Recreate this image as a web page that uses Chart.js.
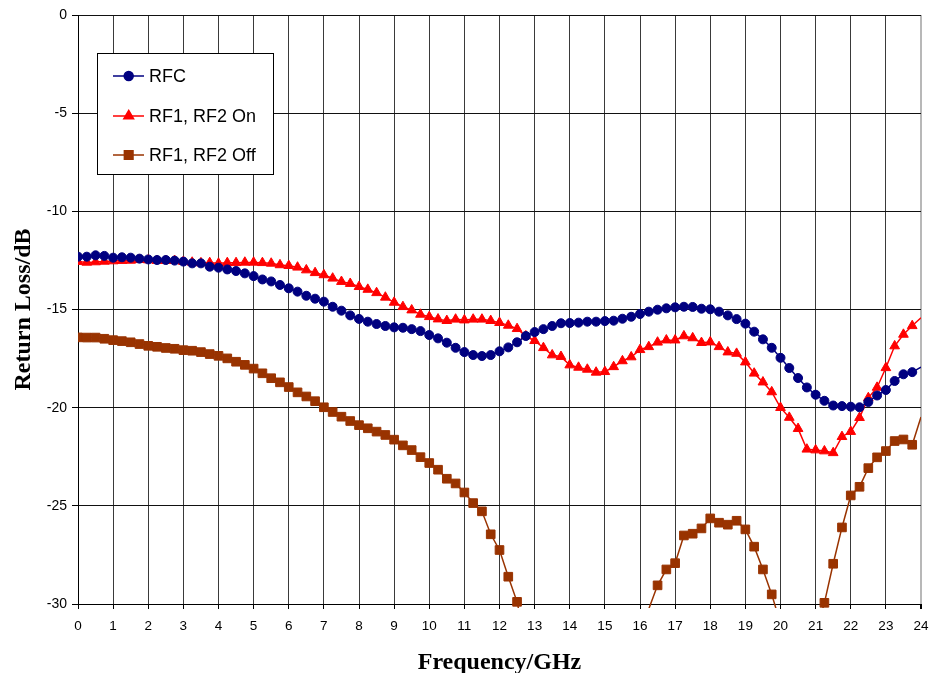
<!DOCTYPE html>
<html>
<head>
<meta charset="utf-8">
<script src="https://cdn.jsdelivr.net/npm/chart.js@4.4.1/dist/chart.umd.min.js"></script>
<style>
  html, body { margin: 0; padding: 0; background: #fff; }
  #wrap { width: 939px; height: 673px; }
</style>
</head>
<body>
<div id="wrap"><canvas id="rlChart" width="939" height="673"></canvas></div>
<script>
/* Return loss vs frequency (Chart.js) */

const SANS = "'Liberation Sans', Arial, sans-serif";
const SERIF = "'Liberation Serif', 'Times New Roman', serif";

const RFC_COLOR = '#000080';
const ON_COLOR = '#FF0000';
const OFF_COLOR = '#993300';

// frequency in GHz
const freq = [
  0, 0.25, 0.5, 0.75, 1, 1.25, 1.5, 1.75, 2, 2.25, 2.5, 2.75,
  3, 3.25, 3.5, 3.75, 4, 4.25, 4.5, 4.75, 5, 5.25, 5.5, 5.75,
  6, 6.25, 6.5, 6.75, 7, 7.25, 7.5, 7.75, 8, 8.25, 8.5, 8.75,
  9, 9.25, 9.5, 9.75, 10, 10.25, 10.5, 10.75, 11, 11.25, 11.5, 11.75,
  12, 12.25, 12.5, 12.75, 13, 13.25, 13.5, 13.75, 14, 14.25, 14.5, 14.75,
  15, 15.25, 15.5, 15.75, 16, 16.25, 16.5, 16.75, 17, 17.25, 17.5, 17.75,
  18, 18.25, 18.5, 18.75, 19, 19.25, 19.5, 19.75, 20, 20.25, 20.5, 20.75,
  21, 21.25, 21.5, 21.75, 22, 22.25, 22.5, 22.75, 23, 23.25, 23.5, 23.75,
  24, 24.25,
];

const rfc = [
  -12.31, -12.31, -12.24, -12.27, -12.36, -12.34, -12.36, -12.41, -12.45, -12.48, -12.48, -12.51,
  -12.56, -12.65, -12.65, -12.82, -12.87, -12.96, -13.04, -13.16, -13.30, -13.47, -13.57, -13.75,
  -13.92, -14.09, -14.30, -14.45, -14.60, -14.86, -15.06, -15.30, -15.48, -15.62, -15.74, -15.84,
  -15.91, -15.93, -16.00, -16.10, -16.30, -16.47, -16.69, -16.95, -17.17, -17.32, -17.37, -17.32,
  -17.13, -16.93, -16.67, -16.35, -16.15, -16.00, -15.84, -15.70, -15.69, -15.67, -15.62, -15.62,
  -15.59, -15.57, -15.47, -15.37, -15.23, -15.11, -15.01, -14.94, -14.89, -14.86, -14.87, -14.96,
  -14.99, -15.11, -15.30, -15.49, -15.72, -16.13, -16.52, -16.95, -17.46, -17.98, -18.49, -18.97,
  -19.34, -19.65, -19.89, -19.92, -19.95, -19.98, -19.71, -19.38, -19.10, -18.64, -18.30, -18.19,
  -17.93, -17.70,
];

const rfOn = [
  -12.56, -12.60, -12.58, -12.55, -12.53, -12.51, -12.50, -12.46, -12.48, -12.51, -12.51, -12.51,
  -12.56, -12.60, -12.63, -12.62, -12.65, -12.62, -12.62, -12.60, -12.60, -12.62, -12.65, -12.73,
  -12.77, -12.85, -12.99, -13.13, -13.24, -13.41, -13.58, -13.68, -13.84, -13.98, -14.15, -14.38,
  -14.64, -14.86, -15.03, -15.25, -15.37, -15.49, -15.57, -15.50, -15.54, -15.50, -15.50, -15.57,
  -15.67, -15.81, -15.98, -16.35, -16.59, -16.95, -17.32, -17.40, -17.83, -17.95, -18.05, -18.20,
  -18.17, -17.92, -17.62, -17.42, -17.05, -16.90, -16.67, -16.56, -16.56, -16.35, -16.45, -16.69,
  -16.66, -16.90, -17.17, -17.24, -17.68, -18.25, -18.70, -19.20, -20.00, -20.50, -21.07, -22.12,
  -22.16, -22.21, -22.30, -21.48, -21.22, -20.51, -19.50, -18.97, -17.97, -16.86, -16.27, -15.83,
  -15.42, -15.20,
];

const rfOff = [
  -16.42, -16.43, -16.43, -16.49, -16.56, -16.61, -16.67, -16.76, -16.85, -16.90, -16.96, -17.00,
  -17.07, -17.10, -17.17, -17.27, -17.36, -17.49, -17.66, -17.82, -18.01, -18.25, -18.50, -18.71,
  -18.95, -19.22, -19.43, -19.67, -19.98, -20.22, -20.46, -20.68, -20.89, -21.05, -21.22, -21.39,
  -21.63, -21.92, -22.16, -22.52, -22.82, -23.16, -23.62, -23.86, -24.32, -24.86, -25.28, -26.45,
  -27.25, -28.61, -29.89, -32.00, -33.50, -35.00, -36.00, -37.00, -37.50, -38.00, -38.00, -37.50,
  -37.00, -36.00, -35.00, -33.50, -31.80, -30.25, -29.05, -28.24, -27.92, -26.51, -26.42, -26.15,
  -25.64, -25.86, -25.96, -25.76, -26.20, -27.08, -28.24, -29.51, -31.00, -32.50, -33.50, -33.00,
  -31.50, -29.94, -27.95, -26.10, -24.47, -24.03, -23.08, -22.53, -22.21, -21.70, -21.62, -21.89,
  -20.47, -23.00,
];

const xTicksMax = 24;
const yTicksMin = -30;

const toPoints = arr => freq.map((f, i) => ({ x: f, y: arr[i] }));
// Excel shows no marker for points outside the axis range
const markerSize = r => ctx => {
  const p = ctx.raw;
  if (!p || p.x >= xTicksMax || p.y < yTicksMin) return 0;
  return r;
};

const SERIES = [
  { label: 'RFC', data: rfc, color: RFC_COLOR, style: 'circle', r: 4.5 },
  { label: 'RF1, RF2 On', data: rfOn, color: ON_COLOR, style: 'triangle', r: 5.6 },
  { label: 'RF1, RF2 Off', data: rfOff, color: OFF_COLOR, style: 'rect', r: 6.1 },
];

// legend box drawn inside plot like the Excel original
const insideLegend = {
  id: 'insideLegend',
  afterDraw(chart) {
    const ctx = chart.ctx;
    const bx = 97, by = 53, bw = 176, bh = 121;
    ctx.save();
    ctx.fillStyle = '#fff';
    ctx.fillRect(bx, by, bw, bh);
    ctx.strokeStyle = '#000';
    ctx.lineWidth = 1;
    ctx.strokeRect(bx + 0.5, by + 0.5, bw, bh);
    const rows = [76, 116, 155];
    SERIES.forEach((s, i) => {
      const y = rows[i];
      ctx.strokeStyle = s.color;
      ctx.lineWidth = 1.5;
      ctx.beginPath();
      ctx.moveTo(113, y);
      ctx.lineTo(144, y);
      ctx.stroke();
      ctx.fillStyle = s.color;
      Chart.helpers.drawPoint(ctx, { pointStyle: s.style, radius: s.r, rotation: 0, borderWidth: 1 }, 128.7, y);
      ctx.fillStyle = '#000';
      ctx.font = '18px ' + SANS;
      ctx.textBaseline = 'middle';
      ctx.textAlign = 'left';
      ctx.fillText(s.label, 149, y + 1);
    });
    ctx.restore();
  },
};

const ctx = document.getElementById('rlChart').getContext('2d');
new Chart(ctx, {
  type: 'line',
  data: {
    datasets: SERIES.map(s => ({
      label: s.label,
      data: toPoints(s.data),
      borderColor: s.color,
      backgroundColor: s.color,
      borderWidth: 1.5,
      pointStyle: s.style,
      pointRadius: markerSize(s.r),
      pointBorderWidth: 1,
      pointBorderColor: s.color,
      pointBackgroundColor: s.color,
      tension: 0,
      fill: false,
      clip: { left: 0, top: 0, right: 0, bottom: 4 },
    })),
  },
  options: {
    responsive: false,
    animation: false,
    events: [],
    layout: { padding: { top: 15, right: 18, left: 0, bottom: 0 } },
    plugins: { legend: { display: false }, tooltip: { enabled: false } },
    scales: {
      x: {
        type: 'linear',
        min: 0,
        max: xTicksMax,
        afterFit: s => { s.height = 69; },
        ticks: {
          stepSize: 1,
          padding: 9,
          color: '#000',
          maxRotation: 0,
          autoSkip: false,
          font: { family: SANS, size: 13.5 },
        },
        grid: {
          color: c => (c.tick && c.tick.value === xTicksMax ? '#b8b8b8' : '#3a3a3a'),
          lineWidth: c => (c.tick && c.tick.value === xTicksMax ? 2 : 1),
          tickColor: '#000',
          tickLength: 5,
        },
        border: { color: '#000', width: 1 },
        title: {
          display: true,
          text: 'Frequency/GHz',
          color: '#000',
          font: { family: SERIF, size: 24, weight: 'bold', lineHeight: 1 },
          padding: { top: 0, bottom: -2 },
        },
      },
      y: {
        min: yTicksMin,
        max: 0,
        afterFit: s => { s.width = 78; },
        ticks: {
          stepSize: 5,
          padding: 5,
          color: '#000',
          font: { family: SANS, size: 14 },
        },
        grid: {
          color: '#111',
          lineWidth: 1,
          tickColor: '#000',
          tickLength: 6,
        },
        border: { color: '#000', width: 1 },
        title: {
          display: true,
          text: 'Return Loss/dB',
          color: '#000',
          font: { family: SERIF, size: 24, weight: 'bold', lineHeight: 1 },
          padding: { top: 12, bottom: 0 },
        },
      },
    },
  },
  plugins: [insideLegend],
});
</script>
</body>
</html>
